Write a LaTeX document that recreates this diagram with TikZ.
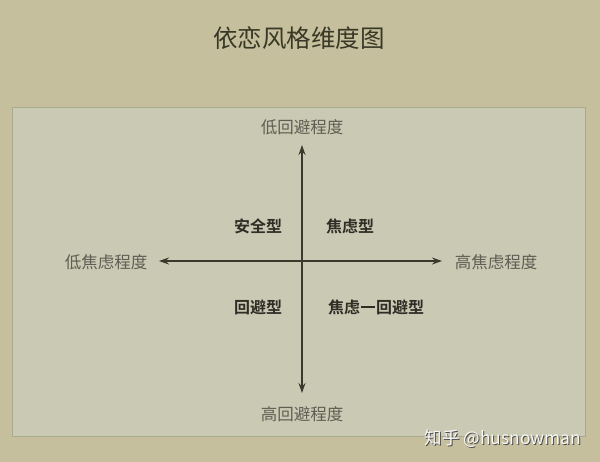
\documentclass[tikz,border=0pt]{standalone}
\usepackage{fontspec}
\setmainfont{Noto Sans CJK SC}
\newfontfamily\cjk{Noto Sans CJK SC}
\newfontfamily\cjkb{Noto Sans CJK SC Bold}
\usetikzlibrary{arrows.meta}
\definecolor{outerbg}{HTML}{C6BF9D}
\definecolor{innerbg}{HTML}{CAC9B3}
\definecolor{frameline}{HTML}{A8AA8E}
\definecolor{axiscol}{HTML}{3A3A2C}
\definecolor{labelcol}{HTML}{5E5E54}
\definecolor{quadcol}{HTML}{2E2E26}
\definecolor{titlecol}{HTML}{383826}
\newcommand{\fulldash}{\kern0.04em\rule[0.33em]{0.92em}{0.14em}\kern0.04em}
\tikzset{
  axislabel/.style={font=\cjk\fontsize{16.5}{18}\selectfont, text=labelcol, inner sep=0pt},
  quadlabel/.style={font=\cjkb\fontsize{16}{18}\selectfont, text=quadcol, inner sep=0pt},
  axisline/.style={draw=axiscol, line width=1.2pt, -{Stealth[length=10pt,width=7pt]}},
}
\begin{document}
\begin{tikzpicture}[x=1pt,y=-1pt]
\useasboundingbox (0,0) rectangle (600,462);
\fill[outerbg] (0,0) rectangle (600,462);
\fill[innerbg, draw=frameline, line width=1pt] (12,108) rectangle (585,436);
\node[font=\cjk\fontsize{24.5}{26}\selectfont, text=titlecol, inner sep=0pt] (title) at (299,38) {依恋风格维度图};
% axis end points
\coordinate (c) at (302,261);
\coordinate (top) at (302,145);
\coordinate (bot) at (302,393);
\coordinate (lft) at (159,261);
\coordinate (rgt) at (442,261);
\draw[axisline] (c) -- (top);
\draw[axisline] (c) -- (bot);
\draw[axisline] (c) -- (lft);
\draw[axisline] (c) -- (rgt);
\node[axislabel] (lowavoid) at (302,127) {低回避程度};
\node[axislabel] (highavoid) at (302,414) {高回避程度};
\node[axislabel] (lowanx) at (106,262) {低焦虑程度};
\node[axislabel] (highanx) at (496,262) {高焦虑程度};
\node[quadlabel] (secure) at (258,226) {安全型};
\node[quadlabel] (anxious) at (350,226) {焦虑型};
\node[quadlabel] (avoid) at (258,307) {回避型};
\node[quadlabel] (fearful) at (376,307) {焦虑\fulldash 回避型};
\node[font=\cjk\fontsize{17.5}{19}\selectfont, text=gray!60!black, inner sep=0pt] at (504,440) {知乎 @husnowman};
\node[font=\cjk\fontsize{17.5}{19}\selectfont, text=white!94!gray, inner sep=0pt] (wm) at (503,439) {知乎 @husnowman};
\end{tikzpicture}
\end{document}
